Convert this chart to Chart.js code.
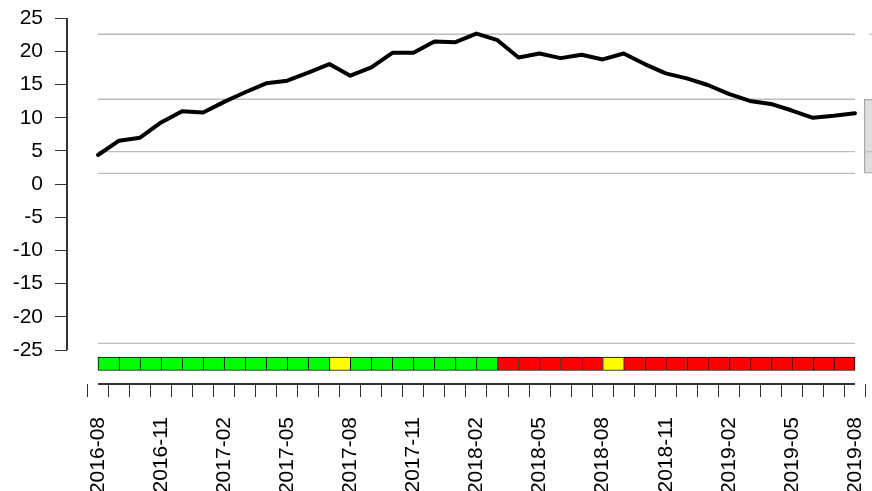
<!DOCTYPE html>
<html>
<head>
<meta charset="utf-8">
<script src="https://cdn.jsdelivr.net/npm/chart.js@4.4.1/dist/chart.umd.min.js"></script>
<style>
  html, body { margin: 0; padding: 0; background: #ffffff; }
  #wrap { width: 872px; height: 491px; position: relative; }
</style>
</head>
<body>
<div id="wrap"><canvas id="c" width="872" height="491"></canvas></div>
<script>
// ---- data ----
const months = ['2016-08','2016-09','2016-10','2016-11','2016-12','2017-01','2017-02','2017-03','2017-04','2017-05','2017-06','2017-07','2017-08','2017-09','2017-10','2017-11','2017-12','2018-01','2018-02','2018-03','2018-04','2018-05','2018-06','2018-07','2018-08','2018-09','2018-10','2018-11','2018-12','2019-01','2019-02','2019-03','2019-04','2019-05','2019-06','2019-07','2019-08'];
const values = [4.4, 6.56, 7.0, 9.3, 11.0, 10.8, 12.4, 13.85, 15.2, 15.6, 16.8, 18.1, 16.36, 17.6, 19.8, 19.8, 21.5, 21.4, 22.7, 21.7, 19.1, 19.7, 19.0, 19.5, 18.8, 19.7, 18.1, 16.7, 15.95, 14.95, 13.6, 12.55, 12.1, 11.1, 10.0, 10.3, 10.7];
// status of each month-interval (between consecutive months)
const status = ['G','G','G','G','G','G','G','G','G','G','G','Y','G','G','G','G','G','G','G','R','R','R','R','R','Y','R','R','R','R','R','R','R','R','R','R','R'];
const statusColors = { G: '#00ff00', Y: '#ffff00', R: '#ff0000' };
const bandRange = [-26.05, -28.08];
const refLevels = [22.6, 12.8, 4.9, 1.64, -24.0];
const yTicks = [-25, -20, -15, -10, -5, 0, 5, 10, 15, 20, 25];
// partially visible legend box at right edge (data units)
const legendBoxX = 37.155;
const legendBoxRange = [1.64, 12.8];
const legendInnerLine = [{x: 36.42, y: 4.9}, {x: 36.9, y: 4.9}];
const legendTopTick = [{x: 36.67, y: 22.6}, {x: 36.9, y: 22.6}];

const X_MIN = -1.474, X_MAX = 36.81, Y_MIN = -30.12, Y_MAX = 27.76;
const FONT = "'Liberation Sans', Arial, sans-serif";
const AXIS = '#333333';

const datasets = [];
datasets.push({
  type: 'line',
  data: values.map((v, i) => ({x: i, y: v})),
  borderColor: '#000000',
  borderWidth: 4,
  borderJoinStyle: 'round',
  borderCapStyle: 'round',
  pointRadius: 0,
  tension: 0,
  fill: false
});
// R-style axis lines covering only the tick range
datasets.push({
  type: 'line',
  data: [{x: X_MIN, y: yTicks[yTicks.length - 1]}, {x: X_MIN, y: yTicks[0]}],
  borderColor: AXIS, borderWidth: 2, pointRadius: 0, fill: false, clip: 3
});
datasets.push({
  type: 'line',
  data: [{x: 0, y: Y_MIN}, {x: months.length - 1, y: Y_MIN}],
  borderColor: AXIS, borderWidth: 2, pointRadius: 0, fill: false, clip: 3
});
refLevels.forEach(v => {
  datasets.push({
    type: 'line',
    data: [{x: 0, y: v}, {x: months.length - 1, y: v}],
    borderColor: '#bdbdbd',
    borderWidth: 1.3,
    pointRadius: 0,
    fill: false
  });
});
datasets.push({
  type: 'line', data: legendInnerLine, borderColor: '#bdbdbd', borderWidth: 1.3, pointRadius: 0, fill: false
});
datasets.push({
  type: 'line', data: legendTopTick, borderColor: '#bdbdbd', borderWidth: 1.3, pointRadius: 0, fill: false
});
datasets.push({
  type: 'bar',
  data: status.map((s, i) => ({x: i + 0.5, y: bandRange})),
  backgroundColor: status.map(s => statusColors[s]),
  borderColor: '#000000',
  borderWidth: ctx => ({top: 1, bottom: 1, left: 1, right: ctx.dataIndex === status.length - 1 ? 1 : 0}),
  borderSkipped: false,
  barPercentage: 1,
  categoryPercentage: 1,
  grouped: false,
  clip: false
});
datasets.push({
  type: 'bar',
  data: [{x: legendBoxX, y: legendBoxRange}],
  backgroundColor: '#dedede',
  borderColor: '#a8a8a8',
  borderWidth: 1.3,
  borderSkipped: false,
  barThickness: 30,
  grouped: false
});

// also paint the axis lines as filled rectangles located through the scales
const axisLines = {
  id: 'axisLines',
  afterDraw(chart) {
    const ctx = chart.ctx;
    const area = chart.chartArea;
    const xs = chart.scales.x, ys = chart.scales.y;
    const yTop = ys.getPixelForValue(yTicks[yTicks.length - 1]);
    const yBot = ys.getPixelForValue(yTicks[0]);
    const x0 = xs.getPixelForValue(0), x1 = xs.getPixelForValue(months.length - 1);
    ctx.save();
    ctx.fillStyle = AXIS;
    ctx.fillRect(Math.round(area.left) - 1, yTop, 2, yBot - yTop);
    ctx.fillRect(x0, Math.round(area.bottom) - 1, x1 - x0, 2);
    ctx.restore();
  }
};

function zeroPad(s) { s.paddingTop = 0; s.paddingBottom = 0; s.paddingLeft = 0; s.paddingRight = 0; }

new Chart(document.getElementById('c'), {
  type: 'line',
  data: { datasets },
  options: {
    responsive: false,
    animation: false,
    devicePixelRatio: 1,
    layout: { padding: 0 },
    plugins: { legend: { display: false }, tooltip: { enabled: false } },
    scales: {
      x: {
        type: 'linear',
        min: X_MIN,
        max: X_MAX,
        offset: false,
        afterFit: s => { s.height = 107; zeroPad(s); },
        afterBuildTicks: s => { s.ticks = months.map((m, i) => ({value: i})); },
        border: { display: false },
        grid: { display: true, drawOnChartArea: false, drawTicks: true, tickLength: 13, color: AXIS, lineWidth: 1 },
        ticks: {
          autoSkip: false,
          minRotation: 90,
          maxRotation: 90,
          padding: 20,
          color: '#000000',
          font: { family: FONT, size: 21 },
          callback: v => (v % 3 === 0 ? months[v] : '')
        }
      },
      y: {
        type: 'linear',
        min: Y_MIN,
        max: Y_MAX,
        afterFit: s => { s.width = 67; zeroPad(s); },
        afterBuildTicks: s => { s.ticks = yTicks.map(v => ({value: v})); },
        border: { display: false },
        grid: { display: true, drawOnChartArea: false, drawTicks: true, tickLength: 12, color: AXIS, lineWidth: 1 },
        ticks: {
          padding: 12,
          color: '#000000',
          font: { family: FONT, size: 21 },
          callback: v => String(v)
        }
      }
    }
  },
  plugins: [axisLines]
});
</script>
</body>
</html>
